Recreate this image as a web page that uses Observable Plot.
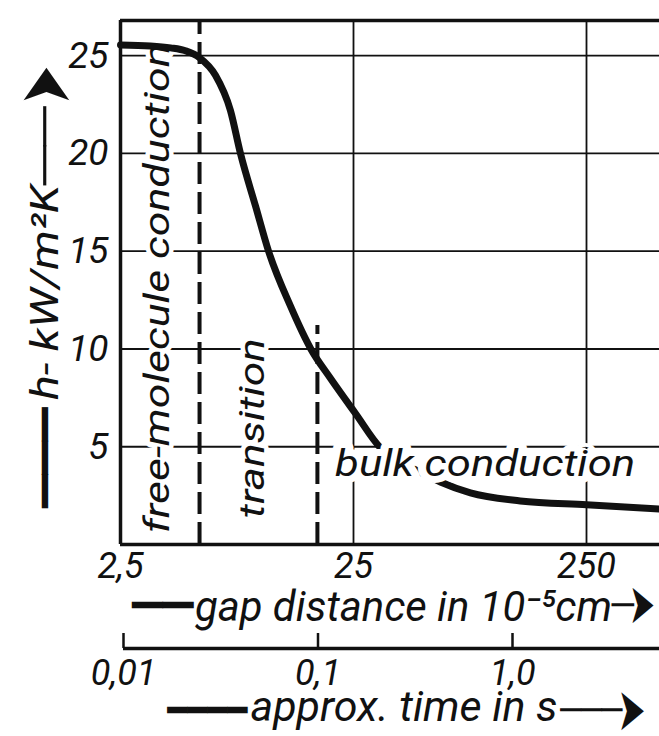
<!DOCTYPE html>
<html><head><meta charset="utf-8">
<script src="https://cdn.jsdelivr.net/npm/d3@7"></script>
<script src="https://cdn.jsdelivr.net/npm/@observablehq/plot@0.6"></script>
<style>
body{margin:0;background:#fff;}
#chart svg{display:block;}
</style></head><body><div id="chart"></div>
<script>
// heat transfer coefficient vs gap distance (10^-5 cm)
const gapDistance = [2.5, 3.36, 4.1, 4.75, 5.46, 6.39, 7.41, 8.18, 9.5, 10.8, 13.4, 16.4, 19.9, 25.5, 32.6, 39.8, 47.1, 59, 79.4, 130, 250, 514];
const heatCoeff   = [25.55, 25.5, 25.4, 25.25, 24.9, 24.0, 22.2, 20.0, 17.3, 15.0, 12.2, 10.0, 8.5, 6.7, 4.95, 4.2, 3.77, 3.2, 2.64, 2.23, 2.03, 1.82];

const gapTicks = [2.5, 25, 250];
const gapTickLabels = ["2,5", "25", "250"];
const hTicks = [5, 10, 15, 20, 25];
const yTop = 26.8;

const timeTicks = [0.01, 0.1, 1.0];
const timeTickLabels = ["0,01", "0,1", "1,0"];

const regimeBounds = [5.46, 17.5];
const regimeBoundTop = [26.8, 11.2];

const regimeLabels = ["free-molecule conduction", "transition", "bulk conduction"];
const regimeX = [3.6, 9.2, 91.8];
const regimeY = [13.1, 5.95, 4.1];
const regimeRotate = [-90, -90, 0];

const yTitle = "h- kW/m²K";
const xTitle = "gap distance in 10⁻⁵cm";
const tTitle = "approx. time in s";

const FONT = "Roboto, 'Open Sans', sans-serif";
const ink = "#111";
const mid = {textAnchor: "middle", lineAnchor: "middle"};
const deco = {fontSize: 38, fill: ink, fontStyle: "normal", fontFamily: "DejaVu Sans", textAnchor: "middle", lineAnchor: "middle"};

const regions = regimeLabels.map((label, i) => ({label, x: regimeX[i], y: regimeY[i], rotate: regimeRotate[i]}));
const curve = gapDistance.map((g, i) => ({gap: g, h: heatCoeff[i]}));

const main = Plot.plot({
  width: 659, height: 625,
  marginLeft: 120, marginRight: 0, marginTop: 20, marginBottom: 81,
  x: {type: "log", domain: [2.5, 2500], range: [120, 819]},
  y: {domain: [0, yTop]},
  style: {fontFamily: FONT, fontStyle: "italic", color: ink, background: "white", overflow: "visible"},
  marks: [
    Plot.ruleY(hTicks, {stroke: ink, strokeWidth: 1.8}),
    Plot.ruleX(gapTicks.slice(1), {stroke: ink, strokeWidth: 1.8}),
    Plot.ruleX(regimeBounds, {x: d => d, y1: 0, y2: (d, i) => regimeBoundTop[i], stroke: ink, strokeWidth: 4, strokeDasharray: "22,8"}),
    Plot.ruleX([gapTicks[0]], {stroke: ink, strokeWidth: 3.5}),
    Plot.ruleY([0, yTop], {stroke: ink, strokeWidth: 3.5}),
    Plot.text(regions.filter(d => d.rotate !== 0), {x: "x", y: "y", text: "label", rotate: "rotate", ...mid, fontSize: 35, fill: ink, stroke: "white", strokeWidth: 9}),
    Plot.line(curve, {x: "gap", y: "h", curve: "monotone-x", stroke: ink, strokeWidth: 7}),
    Plot.text(regions.filter(d => d.rotate === 0), {x: "x", y: "y", text: "label", ...mid, fontSize: 37, fill: ink, stroke: "white", strokeWidth: 14}),
    Plot.axisY(hTicks, {tickSize: 0, tickPadding: 12, fontSize: 37, label: null}),
    Plot.axisX(gapTicks, {tickSize: 0, tickPadding: 8, fontSize: 36, label: null, tickFormat: d => gapTickLabels[gapTicks.indexOf(d)]}),
    // y title with decorations
    Plot.text([yTitle], {frameAnchor: "left", ...mid, dx: -75, dy: 10, rotate: -90, fontSize: 38, fill: ink}),
    Plot.text(["──"], {frameAnchor: "left", ...deco, dx: -75, dy: -137, rotate: -90}),
    Plot.text(["➤"], {frameAnchor: "left", ...deco, fontSize: 72, dx: -75, dy: -197, rotate: -90}),
    Plot.text(["━━━"], {frameAnchor: "left", ...deco, dx: -75, dy: 175, rotate: -90}),
    // x title with decorations
    Plot.text([xTitle], {frameAnchor: "bottom", ...mid, dx: 13.5, dy: 63, fontSize: 43, fill: ink}),
    Plot.text(["━━"], {frameAnchor: "bottom", ...deco, dx: -227, dy: 61}),
    Plot.text(["─"], {frameAnchor: "bottom", ...deco, dx: 233, dy: 61}),
    Plot.text(["➤"], {frameAnchor: "bottom", ...deco, fontSize: 56, dx: 252, dy: 61})
  ]
});

const timeAxis = Plot.plot({
  width: 659, height: 111,
  marginLeft: 123, marginRight: 0, marginTop: 23, marginBottom: 0,
  x: {type: "log", domain: [0.01, 1], range: [123, 512], axis: null},
  y: {domain: [0, 1], range: [23, 8], axis: null},
  style: {fontFamily: FONT, fontStyle: "italic", color: ink, background: "white", overflow: "visible"},
  marks: [
    Plot.ruleY([0], {stroke: ink, strokeWidth: 3.5}),
    Plot.ruleX(timeTicks, {x: d => d, y1: 0, y2: 1, stroke: ink, strokeWidth: 2.5}),
    Plot.text(timeTicks, {x: d => d, y: 0, dy: 25, ...mid, text: d => timeTickLabels[timeTicks.indexOf(d)], fontSize: 36, fill: ink}),
    Plot.text([tTitle], {frameAnchor: "top", ...mid, dx: 12.5, dy: 59, fontSize: 43, fill: ink}),
    Plot.text(["━━━━"], {frameAnchor: "top", ...deco, dx: -184, dy: 62}),
    Plot.text(["───"], {frameAnchor: "top", ...deco, dx: 200, dy: 62}),
    Plot.text(["➤"], {frameAnchor: "top", ...deco, fontSize: 60, dx: 240, dy: 62})
  ]
});

// text lengths in document order for each decorated/condensed string
const lengths = {
  "free-molecule conduction": [490],
  "transition": [180],
  "bulk conduction": [300],
  [yTitle]: [215],
  "──": [78],
  "➤": [40, 26, 28],
  "━━━": [100],
  [xTitle]: [417],
  "━━": [61],
  "─": [22],
  [tTitle]: [307],
  "━━━━": [80],
  "───": [62]
};

const root = document.getElementById("chart");
root.appendChild(main);
root.appendChild(timeAxis);

const used = {};
d3.selectAll("#chart svg text").each(function () {
  const t = this.textContent;
  if (lengths[t]) {
    const k = used[t] || 0;
    const L = lengths[t][Math.min(k, lengths[t].length - 1)];
    used[t] = k + 1;
    d3.select(this).attr("textLength", L).attr("lengthAdjust", "spacingAndGlyphs");
  }
});
</script>
</body></html>
